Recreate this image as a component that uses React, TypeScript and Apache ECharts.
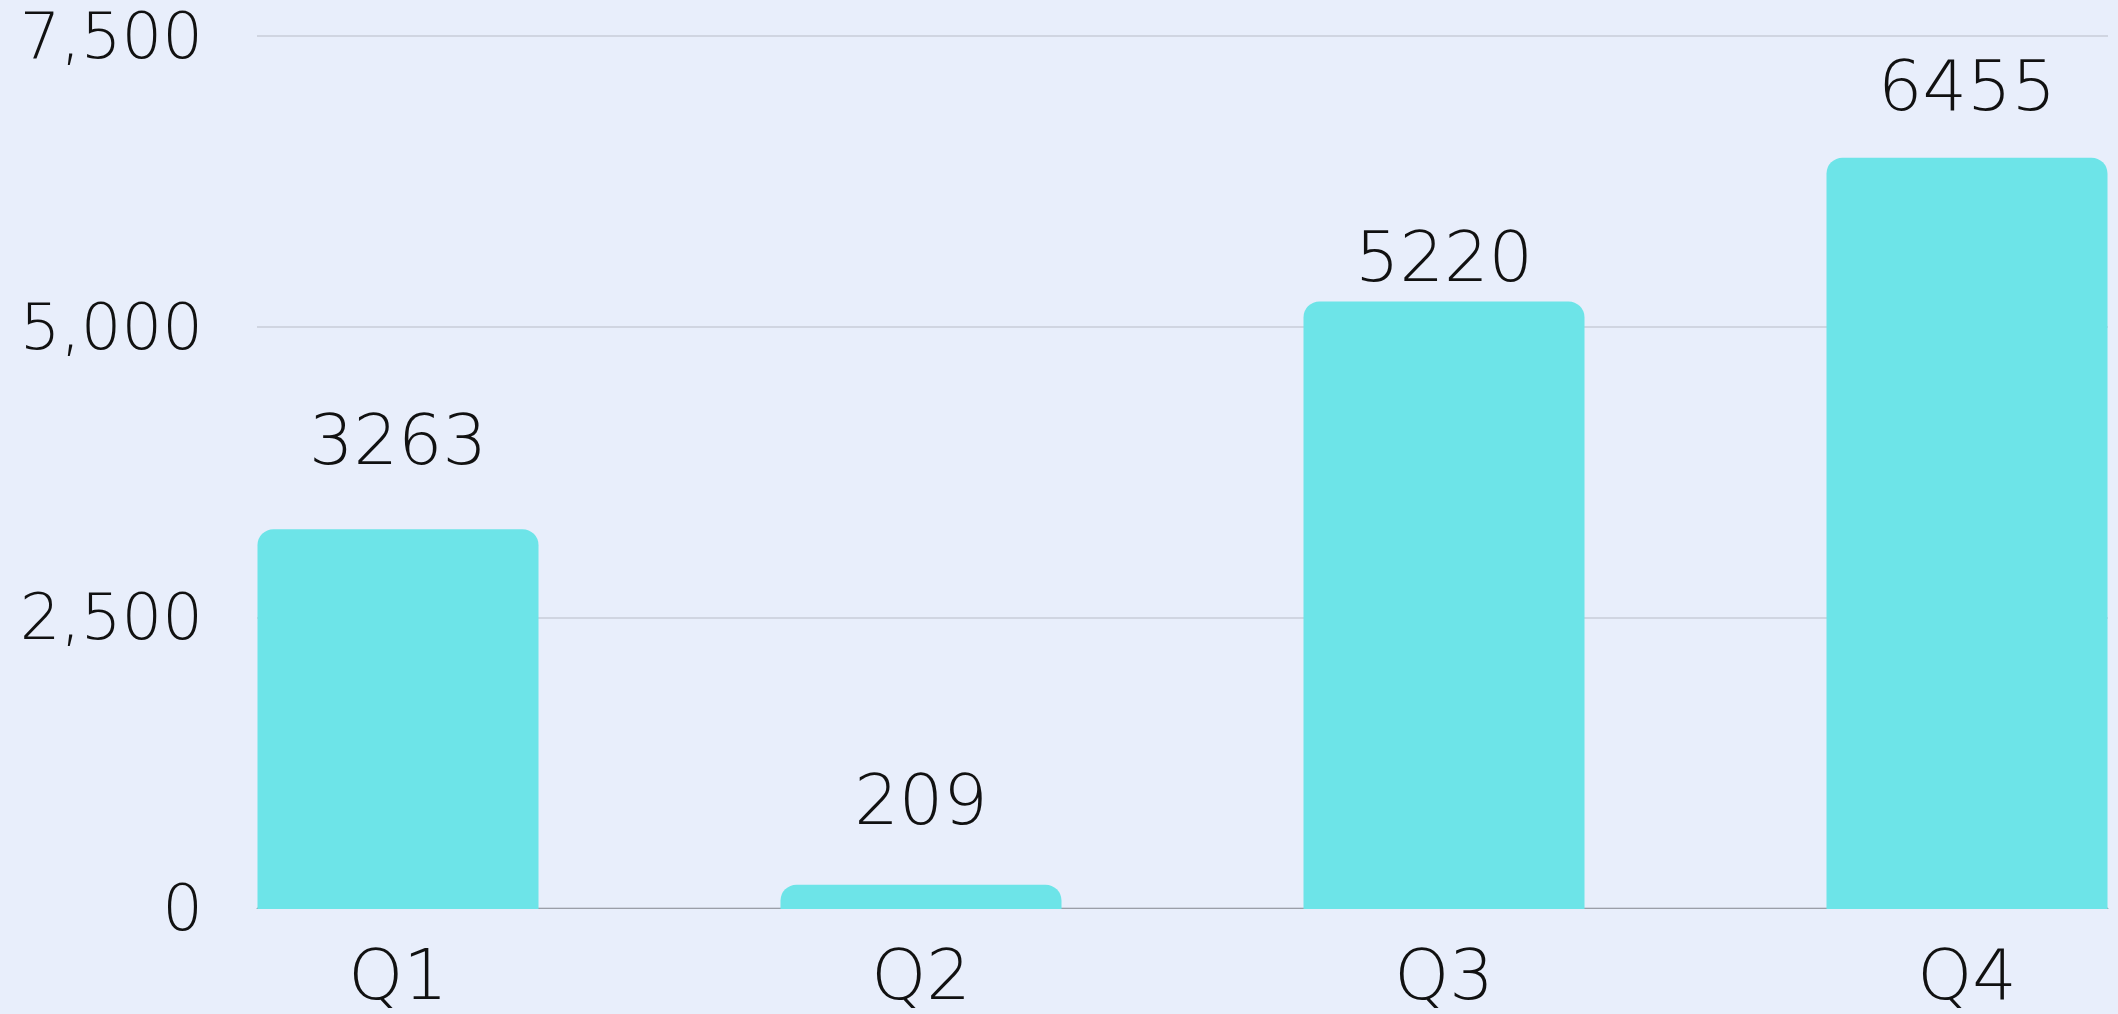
import React, { useEffect, useRef } from "react";
import * as echarts from "echarts";

const categories = ["Q1", "Q2", "Q3", "Q4"];
const values = [3263, 209, 5220, 6455];
const yTicks = { min: 0, max: 7500, interval: 2500 };
const labelGaps = [54, 50, 9, 37];

const FONT = "DejaVu Sans";
const WEIGHT = 200;
const AXIS_SIZE = 64;
const CAT_SIZE = 70;
const VALUE_SIZE = 70;

export default function App() {
  const ref = useRef<HTMLDivElement>(null);
  useEffect(() => {
    document.body.style.margin = "0";
    const chart = echarts.init(ref.current!, null, { renderer: "svg" });
    const top = 36;
    const bottom = 106;
    chart.setOption({
      animation: false,
      backgroundColor: "#e8eefb",
      grid: [
        { left: 398, right: 151, top, bottom: bottom - 1 },
        { left: 257, right: 10, top, bottom },
      ],
      xAxis: [
        {
          type: "category",
          gridIndex: 0,
          data: categories,
          boundaryGap: false,
          axisLine: { show: false },
          axisTick: { show: false },
          axisLabel: {
            color: "#111",
            fontFamily: FONT,
            fontWeight: WEIGHT,
            fontSize: CAT_SIZE,
            lineHeight: 56,
            margin: 38,
          },
        },
        {
          type: "value",
          gridIndex: 1,
          min: 0,
          max: 1,
          axisLine: { show: true, lineStyle: { color: "#9a9ea8", width: 1 } },
          axisTick: { show: false },
          axisLabel: { show: false },
          splitLine: { show: false },
        },
      ],
      yAxis: [
        {
          type: "value",
          gridIndex: 0,
          ...yTicks,
          show: false,
          splitLine: { show: false },
        },
        {
          type: "value",
          gridIndex: 1,
          ...yTicks,
          axisLine: { show: false },
          axisTick: { show: false },
          splitLine: { show: true, lineStyle: { color: "#c8cdd8", width: 1.5 } },
          axisLabel: {
            color: "#111",
            fontFamily: FONT,
            fontWeight: WEIGHT,
            fontSize: AXIS_SIZE,
            margin: 54,
            formatter: (v: number) => v.toLocaleString("en-US"),
          },
        },
      ],
      series: [
        {
          type: "bar",
          xAxisIndex: 0,
          yAxisIndex: 0,
          barWidth: 281,
          data: values.map((v, i) => ({
            value: v,
            label: { distance: labelGaps[i] },
          })),
          itemStyle: { color: "#6de4e8", borderRadius: [16, 16, 0, 0] },
          label: {
            show: true,
            position: "top",
            color: "#111",
            fontFamily: FONT,
            fontWeight: WEIGHT,
            fontSize: VALUE_SIZE,
          },
        },
      ],
    });
    return () => chart.dispose();
  }, []);
  return <div ref={ref} style={{ width: 2118, height: 1014 }} />;
}
